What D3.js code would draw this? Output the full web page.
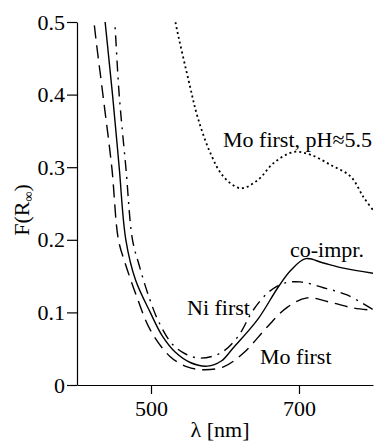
<!DOCTYPE html>
<html>
<head>
<meta charset="utf-8">
<script src="https://cdn.jsdelivr.net/npm/d3@7"></script>
<style>
  body { margin: 0; background: #fff; }
  svg text { font-family: "Liberation Serif", serif !important; }
</style>
</head>
<body>
<div id="chart"></div>
<script>
// values (wavelength in nm, F(R∞))
const coImprNm = [434, 438, 448, 457, 466, 479, 499, 515, 533, 553, 576, 595, 611, 644, 672, 689, 709, 733, 760, 800];
const coImprF  = [0.55, 0.5, 0.4, 0.3, 0.2, 0.145, 0.1, 0.068, 0.045, 0.031, 0.026, 0.033, 0.051, 0.09, 0.135, 0.158, 0.174, 0.168, 0.161, 0.154];

const niFirstNm = [447, 451, 457, 466, 475, 484, 496, 510, 529, 548, 567, 594, 617, 638, 659, 679, 702, 733, 765, 800];
const niFirstF  = [0.55, 0.5, 0.4, 0.3, 0.2, 0.165, 0.125, 0.088, 0.056, 0.042, 0.037, 0.044, 0.066, 0.103, 0.128, 0.14, 0.142, 0.134, 0.124, 0.104];

const moFirstNm = [419, 423, 435, 447, 456, 465, 481, 499, 526, 549, 571, 598, 625, 657, 684, 711, 742, 774, 800];
const moFirstF  = [0.55, 0.5, 0.4, 0.3, 0.2, 0.168, 0.121, 0.076, 0.039, 0.025, 0.021, 0.025, 0.044, 0.08, 0.107, 0.12, 0.114, 0.106, 0.103];

const moPhNm = [530, 533, 553, 563, 580, 598, 621, 644, 666, 693, 716, 743, 770, 787, 800];
const moPhF  = [0.52, 0.5, 0.41, 0.369, 0.32, 0.287, 0.271, 0.282, 0.306, 0.321, 0.317, 0.303, 0.287, 0.259, 0.241];

const xTicks = [500, 700];
const yTicks = [0, 0.1, 0.2, 0.3, 0.4, 0.5];

const width = 379;
const height = 446;
const margin = {left: 77, right: 6, top: 22, bottom: 61};
const font = "Liberation Serif";

const xScale = d3.scaleLinear()
    .domain([400, 800])
    .range([margin.left, width - margin.right]);

const yScale = d3.scaleLinear()
    .domain([0, 0.5])
    .range([height - margin.bottom, margin.top]);

let svg = d3.select("#chart")
    .append("svg")
        .attr("width", width)
        .attr("height", height)
        .attr("font-family", font);

svg.append("clipPath")
    .attr("id", "plot")
    .append("rect")
        .attr("x", margin.left)
        .attr("y", margin.top)
        .attr("width", width - margin.left - margin.right)
        .attr("height", height - margin.top - margin.bottom);

// axes
svg.append("g")
    .attr("transform", `translate(0, ${yScale(0)})`)
    .call(d3.axisBottom(xScale).tickValues(xTicks).tickSize(9).tickSizeOuter(0).tickPadding(6));

svg.append("g")
    .attr("transform", `translate(${margin.left}, 0)`)
    .call(d3.axisLeft(yScale).tickValues(yTicks).tickSize(10).tickSizeOuter(0).tickPadding(2)
        .tickFormat(d => d === 0 ? "0" : d3.format(".1f")(d)));

svg.selectAll(".domain, .tick line")
    .attr("stroke", "#000")
    .attr("stroke-width", 1.2);

svg.selectAll("g")
    .attr("font-family", font)
    .attr("font-size", 22);

svg.selectAll(".tick text")
    .attr("font-family", font)
    .attr("font-size", 22)
    .attr("fill", "#000");

// axis titles
svg.append("text")
    .attr("x", 220)
    .attr("y", 437)
    .attr("text-anchor", "middle")
    .attr("font-family", font)
    .attr("font-size", 22)
    .text("λ [nm]");

svg.append("text")
    .attr("transform", "translate(29, 210) rotate(-90)")
    .attr("text-anchor", "middle")
    .attr("font-family", font)
    .attr("font-size", 22)
    .html('F(R<tspan font-size="14" dy="4">∞</tspan><tspan dy="-4">)</tspan>');

// curves
const series = [
    {nm: coImprNm, f: coImprF, dash: null, w: 1.4},
    {nm: niFirstNm, f: niFirstF, dash: "11,6,2,6", w: 1.4},
    {nm: moFirstNm, f: moFirstF, dash: "13,7", w: 1.4},
    {nm: moPhNm, f: moPhF, dash: "2,3", w: 1.8}
];

const line = d3.line()
    .x(d => xScale(d[0]))
    .y(d => yScale(d[1]))
    .curve(d3.curveCatmullRom.alpha(0.5));

svg.append("g")
    .attr("clip-path", "url(#plot)")
    .selectAll("path")
    .data(series)
    .enter()
        .append("path")
            .attr("d", s => line(s.nm.map((v, i) => [v, s.f[i]])))
            .attr("fill", "none")
            .attr("stroke", "#000")
            .attr("stroke-width", s => s.w)
            .attr("stroke-dasharray", s => s.dash);

// curve labels
const labels = [
    {text: "Mo first, pH≈5.5", x: 223, y: 147},
    {text: "co-impr.", x: 290, y: 257},
    {text: "Ni first", x: 187, y: 315},
    {text: "Mo first", x: 260, y: 364}
];

svg.selectAll(".label")
    .data(labels)
    .enter()
        .append("text")
            .attr("class", "label")
            .attr("x", d => d.x)
            .attr("y", d => d.y)
            .attr("font-family", font)
            .attr("font-size", 22)
            .text(d => d.text);
</script>
</body>
</html>
